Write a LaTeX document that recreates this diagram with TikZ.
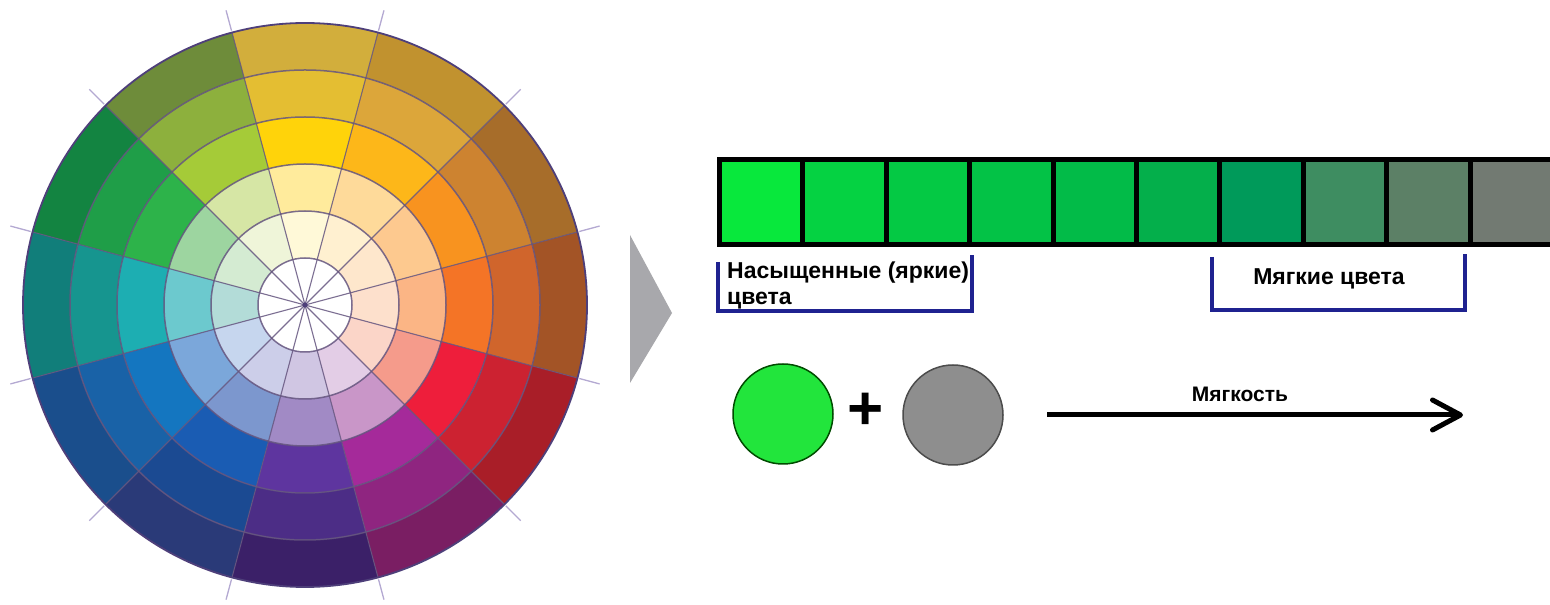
\documentclass[tikz,border=0pt]{standalone}
\usepackage{fontspec}
\setsansfont{Liberation Sans}
\usetikzlibrary{arrows.meta,positioning}

\definecolor{wheelline}{HTML}{65557F}
\definecolor{wheelrim}{HTML}{4E3F7A}
\definecolor{wheeltick}{HTML}{B4A9D2}
\definecolor{pointer}{HTML}{A8A8AC}
\definecolor{bracketblue}{HTML}{1F2290}
\definecolor{puregreen}{HTML}{22E53C}
\definecolor{neutralgray}{HTML}{8E8E8E}
\definecolor{sq1}{HTML}{08E83C}
\definecolor{sq2}{HTML}{05D242}
\definecolor{sq3}{HTML}{04C944}
\definecolor{sq4}{HTML}{03C246}
\definecolor{sq5}{HTML}{02BB48}
\definecolor{sq6}{HTML}{04AF4B}
\definecolor{sq7}{HTML}{009A5A}
\definecolor{sq8}{HTML}{3E8D61}
\definecolor{sq9}{HTML}{5C8066}
\definecolor{sq10}{HTML}{727A72}

\begin{document}
\begin{tikzpicture}[x=1pt,y=1pt,
  cell/.style={draw=black,line width=5pt,minimum width=83.4pt,minimum height=85pt,inner sep=0pt},
  lbl/.style={font=\sffamily\bfseries\fontsize{23}{26}\selectfont,inner sep=0pt},
  disc/.style={circle,minimum size=100pt,inner sep=0pt,line width=1.5pt},
  bracketline/.style={draw=bracketblue,line width=3.5pt},
  spoke/.style={draw=wheelline,line width=1.5pt,opacity=.85}]
  \useasboundingbox (0,0) rectangle (1550,605);
  \fill[white] (0,0) rectangle (1550,605);

  \coordinate (wheel) at (305,300);
  \begin{scope}[shift={(wheel)}]
    \fill[white] (0,0) circle[radius=47];
    \foreach \a/\ca/\cb/\cc/\cd/\ce in {
        0/FDE0CC/FBB585/F47426/D0652C/A35426,
       30/FEE7CC/FDC98F/F8931F/CD8330/A76D2A,
       60/FFF0D0/FEDA9A/FDB719/DCA63A/C1922F,
       90/FFF9D8/FFEB9C/FFD30A/E4BE32/D2AE3C,
      120/EFF5D9/D6E6A5/A5CB38/8DB03D/6E8C3A,
      150/D4EBD2/9DD5A0/2DB34A/1F9E48/138441,
      180/B3DCD8/6CC9CE/1DAEB2/16958F/117E7A,
      210/C6D6EE/7BA7DA/1476C0/1962A7/1A4E8C,
      240/CCCEE9/7C97CE/1A5CB3/1B4A92/2A3A78,
      270/D0C6E3/A18AC5/5E359F/4C2D86/3B2068,
      300/E3CDE6/C996C8/A52A9A/8F2580/7A1E63,
      330/FBD5C8/F59B8B/EE1E3B/CC2231/A91E28}
      \foreach \c [count=\i] in {\ca,\cb,\cc,\cd,\ce} {
        \definecolor{ring}{HTML}{\c}
        \fill[ring] (\a-15:47*\i) arc[start angle=\a-15,end angle=\a+15,radius=47*\i]
          -- (\a+15:47*\i+47) arc[start angle=\a+15,end angle=\a-15,radius=47*\i+47] -- cycle;
      }
    \foreach \r in {47,94,141,188,235}
      \draw[spoke] (0,0) circle[radius=\r];
    \foreach \a in {15,45,...,345} {
      \draw[spoke,line width=1.1pt] (0,0) -- (\a:282);
      \draw[draw=wheeltick,line width=1.3pt] (\a:284) -- (\a:305);
    }
    \draw[draw=wheelrim,line width=1.8pt] (0,0) circle[radius=282];
    \fill[wheelrim] (0,0) circle[radius=2.5];
  \end{scope}

  \fill[pointer] (630,370) -- (630,222) -- (672,292) -- cycle;

  \foreach \i in {1,...,10}
    \node[cell,fill=sq\i] (s\i) at ({761.2+83.4*(\i-1)},403) {};

  \draw[bracketline] (718,343) -- (718,294) -- (972,294) -- (972,350);
  \draw[bracketline] (1212,348) -- (1212,295) -- (1465,295) -- (1465,351);
  \node[lbl,anchor=north west,align=left] (vivid) at (727,343) {Насыщенные (яркие)\\цвета};
  \node[lbl,anchor=base] (soft) at (1329,320) {Мягкие цвета};

  \node[disc,fill=puregreen,draw=black!70!green] (pure) at (783,191) {};
  \node[disc,fill=neutralgray,draw=black!70] (grey) at (953,190) {};
  \node[font=\sffamily\bfseries\fontsize{62}{62}\selectfont,inner sep=0pt] (plus) at (866,194) {+};

  \coordinate (from) at (1047,190);
  \coordinate (to) at (1463,190);
  \draw[line width=5pt,-{Straight Barb[length=28pt,width=30pt,round]}] (from) -- (to);
  \node[lbl,font=\sffamily\bfseries\fontsize{21}{24}\selectfont,anchor=base] (softness) at (1240,203) {Мягкость};
\end{tikzpicture}
\end{document}
